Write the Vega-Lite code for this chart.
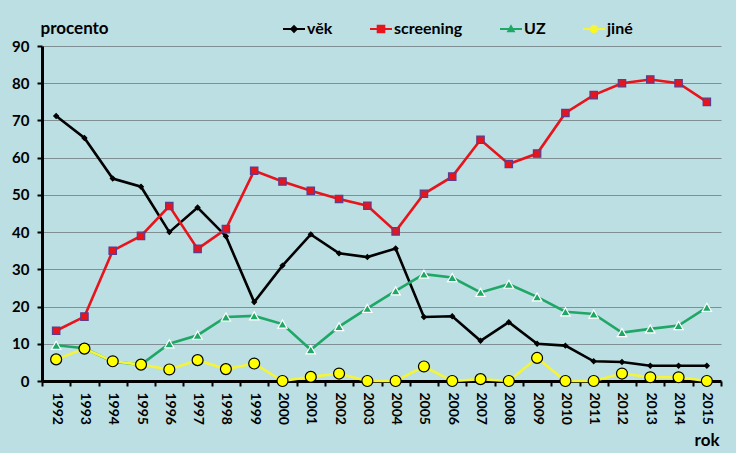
{
  "$schema": "https://vega.github.io/schema/vega-lite/v6.json",
  "autosize": {"type": "none"},
  "width": 679,
  "height": 335,
  "padding": {"left": 42, "top": 46, "right": 15, "bottom": 72},
  "background": "#BCDFE4",
  "config": {
    "view": {"stroke": null},
    "font": "Lato",
    "legend": {
      "orient": "none",
      "direction": "horizontal",
      "legendX": 240,
      "legendY": -29,
      "title": null,
      "labelFont": "Lato",
      "labelFontSize": 16,
      "labelFontWeight": "bold",
      "labelColor": "#000000",
      "symbolSize": 484,
      "columnPadding": 33,
      "labelOffset": 1,
      "symbolStrokeWidth": 2
    }
  },
  "data": {
    "values": [
      {"rok": "1992", "serie": "věk", "v": 71.2},
      {"rok": "1993", "serie": "věk", "v": 65.3},
      {"rok": "1994", "serie": "věk", "v": 54.4},
      {"rok": "1995", "serie": "věk", "v": 52.2},
      {"rok": "1996", "serie": "věk", "v": 40.0},
      {"rok": "1997", "serie": "věk", "v": 46.6},
      {"rok": "1998", "serie": "věk", "v": 38.9},
      {"rok": "1999", "serie": "věk", "v": 21.2},
      {"rok": "2000", "serie": "věk", "v": 31.0},
      {"rok": "2001", "serie": "věk", "v": 39.4},
      {"rok": "2002", "serie": "věk", "v": 34.3},
      {"rok": "2003", "serie": "věk", "v": 33.3},
      {"rok": "2004", "serie": "věk", "v": 35.6},
      {"rok": "2005", "serie": "věk", "v": 17.2},
      {"rok": "2006", "serie": "věk", "v": 17.4},
      {"rok": "2007", "serie": "věk", "v": 10.8},
      {"rok": "2008", "serie": "věk", "v": 15.8},
      {"rok": "2009", "serie": "věk", "v": 10.0},
      {"rok": "2010", "serie": "věk", "v": 9.5},
      {"rok": "2011", "serie": "věk", "v": 5.3},
      {"rok": "2012", "serie": "věk", "v": 5.1},
      {"rok": "2013", "serie": "věk", "v": 4.1},
      {"rok": "2014", "serie": "věk", "v": 4.1},
      {"rok": "2015", "serie": "věk", "v": 4.1},
      {"rok": "1992", "serie": "screening", "v": 13.5},
      {"rok": "1993", "serie": "screening", "v": 17.3},
      {"rok": "1994", "serie": "screening", "v": 35.0},
      {"rok": "1995", "serie": "screening", "v": 39.0},
      {"rok": "1996", "serie": "screening", "v": 47.0},
      {"rok": "1997", "serie": "screening", "v": 35.5},
      {"rok": "1998", "serie": "screening", "v": 40.8},
      {"rok": "1999", "serie": "screening", "v": 56.5},
      {"rok": "2000", "serie": "screening", "v": 53.6},
      {"rok": "2001", "serie": "screening", "v": 51.1},
      {"rok": "2002", "serie": "screening", "v": 48.9},
      {"rok": "2003", "serie": "screening", "v": 47.1},
      {"rok": "2004", "serie": "screening", "v": 40.2},
      {"rok": "2005", "serie": "screening", "v": 50.3},
      {"rok": "2006", "serie": "screening", "v": 54.9},
      {"rok": "2007", "serie": "screening", "v": 64.8},
      {"rok": "2008", "serie": "screening", "v": 58.3},
      {"rok": "2009", "serie": "screening", "v": 61.1},
      {"rok": "2010", "serie": "screening", "v": 72.0},
      {"rok": "2011", "serie": "screening", "v": 76.8},
      {"rok": "2012", "serie": "screening", "v": 80.0},
      {"rok": "2013", "serie": "screening", "v": 81.0},
      {"rok": "2014", "serie": "screening", "v": 80.0},
      {"rok": "2015", "serie": "screening", "v": 75.0},
      {"rok": "1992", "serie": "UZ", "v": 9.6},
      {"rok": "1993", "serie": "UZ", "v": 8.8},
      {"rok": "1994", "serie": "UZ", "v": 5.2},
      {"rok": "1995", "serie": "UZ", "v": 4.4},
      {"rok": "1996", "serie": "UZ", "v": 10.0},
      {"rok": "1997", "serie": "UZ", "v": 12.3},
      {"rok": "1998", "serie": "UZ", "v": 17.2},
      {"rok": "1999", "serie": "UZ", "v": 17.5},
      {"rok": "2000", "serie": "UZ", "v": 15.3},
      {"rok": "2001", "serie": "UZ", "v": 8.4},
      {"rok": "2002", "serie": "UZ", "v": 14.6},
      {"rok": "2003", "serie": "UZ", "v": 19.5},
      {"rok": "2004", "serie": "UZ", "v": 24.2},
      {"rok": "2005", "serie": "UZ", "v": 28.7},
      {"rok": "2006", "serie": "UZ", "v": 27.8},
      {"rok": "2007", "serie": "UZ", "v": 23.8},
      {"rok": "2008", "serie": "UZ", "v": 26.0},
      {"rok": "2009", "serie": "UZ", "v": 22.6},
      {"rok": "2010", "serie": "UZ", "v": 18.6},
      {"rok": "2011", "serie": "UZ", "v": 18.0},
      {"rok": "2012", "serie": "UZ", "v": 13.0},
      {"rok": "2013", "serie": "UZ", "v": 14.0},
      {"rok": "2014", "serie": "UZ", "v": 14.9},
      {"rok": "2015", "serie": "UZ", "v": 19.8},
      {"rok": "1992", "serie": "jiné", "v": 5.8},
      {"rok": "1993", "serie": "jiné", "v": 8.7},
      {"rok": "1994", "serie": "jiné", "v": 5.3},
      {"rok": "1995", "serie": "jiné", "v": 4.4},
      {"rok": "1996", "serie": "jiné", "v": 3.1},
      {"rok": "1997", "serie": "jiné", "v": 5.6},
      {"rok": "1998", "serie": "jiné", "v": 3.2},
      {"rok": "1999", "serie": "jiné", "v": 4.7},
      {"rok": "2000", "serie": "jiné", "v": 0},
      {"rok": "2001", "serie": "jiné", "v": 1.1},
      {"rok": "2002", "serie": "jiné", "v": 2.0},
      {"rok": "2003", "serie": "jiné", "v": 0},
      {"rok": "2004", "serie": "jiné", "v": 0},
      {"rok": "2005", "serie": "jiné", "v": 3.9},
      {"rok": "2006", "serie": "jiné", "v": 0},
      {"rok": "2007", "serie": "jiné", "v": 0.5},
      {"rok": "2008", "serie": "jiné", "v": 0},
      {"rok": "2009", "serie": "jiné", "v": 6.2},
      {"rok": "2010", "serie": "jiné", "v": 0},
      {"rok": "2011", "serie": "jiné", "v": 0},
      {"rok": "2012", "serie": "jiné", "v": 2.0},
      {"rok": "2013", "serie": "jiné", "v": 1.0},
      {"rok": "2014", "serie": "jiné", "v": 1.0},
      {"rok": "2015", "serie": "jiné", "v": 0}
    ]
  },
  "encoding": {
    "x": {
      "field": "rok",
      "type": "ordinal",
      "scale": {"type": "band", "paddingInner": 0, "paddingOuter": 0},
      "axis": {
        "title": "rok",
        "titleFont": "Lato",
        "titleFontSize": 17,
        "titleFontWeight": "bold",
        "titleColor": "#000000",
        "titleAnchor": "end",
        "titleAlign": "right",
        "titleBaseline": "alphabetic",
        "titleX": 677,
        "titleY": 64,
        "labelAngle": 90,
        "labelFont": "Lato",
        "labelFontSize": 14,
        "labelFontWeight": "bold",
        "labelColor": "#000000",
        "labelPadding": 6,
        "tickBand": "extent",
        "tickColor": "#000000",
        "tickWidth": 2,
        "tickSize": 5,
        "domainColor": "#000000",
        "domainWidth": 3,
        "grid": false
      }
    },
    "y": {
      "field": "v",
      "type": "quantitative",
      "scale": {"domain": [0, 90], "nice": false, "zero": true},
      "axis": {
        "title": "procento",
        "titleAngle": 0,
        "titleAlign": "left",
        "titleBaseline": "bottom",
        "titleX": -2,
        "titleY": -9,
        "titleFont": "Lato",
        "titleFontSize": 17,
        "titleFontWeight": "bold",
        "titleColor": "#000000",
        "values": [0, 10, 20, 30, 40, 50, 60, 70, 80, 90],
        "labelFont": "Lato",
        "labelFontSize": 15,
        "labelFontWeight": "bold",
        "labelColor": "#000000",
        "labelPadding": 8,
        "tickColor": "#000000",
        "tickWidth": 2,
        "tickSize": 5,
        "domainColor": "#000000",
        "domainWidth": 3,
        "grid": true,
        "gridColor": "#7F8F93",
        "gridWidth": 1.2
      }
    }
  },
  "layer": [
    {
      "mark": {"type": "line", "strokeWidth": 2.6},
      "encoding": {
        "stroke": {
          "field": "serie",
          "type": "nominal",
          "scale": {
            "domain": ["věk", "screening", "UZ", "jiné"],
            "range": ["#000000", "#E8141C", "#1FA765", "#F4F43A"]
          },
          "legend": {
            "encode": {
              "symbols": {
                "update": {
                  "shape": {"signal": "datum.value === 'věk' ? 'M-1,0L1,0M-0.25,0L0,-0.25L0.25,0L0,0.25Z' : datum.value === 'screening' ? 'M-1,0L1,0M-0.3,-0.3L0.3,-0.3L0.3,0.3L-0.3,0.3Z' : datum.value === 'UZ' ? 'M-1,0L1,0M-0.25,0.2L0,-0.25L0.25,0.2Z' : 'M-1,0L1,0M-0.3,0A0.3,0.3,0,1,1,0.3,0A0.3,0.3,0,1,1,-0.3,0Z'"},
                  "size": {"value": 484},
                  "strokeWidth": {"value": 2},
                  "fill": {"signal": "datum.value === 'věk' ? '#000000' : datum.value === 'screening' ? '#E8141C' : datum.value === 'UZ' ? '#1FA765' : '#FFFF00'"},
                  "opacity": {"value": 1}
                }
              }
            }
          }
        },
        "order": {"field": "rok"}
      }
    },
    {
      "mark": {"type": "point", "filled": true, "opacity": 1, "strokeWidth": 1.2},
      "encoding": {
        "shape": {
          "field": "serie",
          "type": "nominal",
          "scale": {
            "domain": ["věk", "screening", "UZ", "jiné"],
            "range": ["diamond", "square", "triangle-up", "circle"]
          },
          "legend": null
        },
        "fill": {
          "field": "serie",
          "type": "nominal",
          "scale": {
            "domain": ["věk", "screening", "UZ", "jiné"],
            "range": ["#000000", "#E8141C", "#1FA765", "#FFFF00"]
          },
          "legend": null
        },
        "stroke": {
          "field": "serie",
          "type": "nominal",
          "scale": {
            "domain": ["věk", "screening", "UZ", "jiné"],
            "range": ["#000000", "#5B3C8F", "#FFFFFF", "#000000"]
          },
          "legend": null
        },
        "size": {
          "field": "serie",
          "type": "nominal",
          "scale": {
            "domain": ["věk", "screening", "UZ", "jiné"],
            "range": [22, 120, 50, 95]
          },
          "legend": null
        }
      }
    }
  ],
  "resolve": {"scale": {"stroke": "independent"}, "legend": {"stroke": "independent"}}
}
